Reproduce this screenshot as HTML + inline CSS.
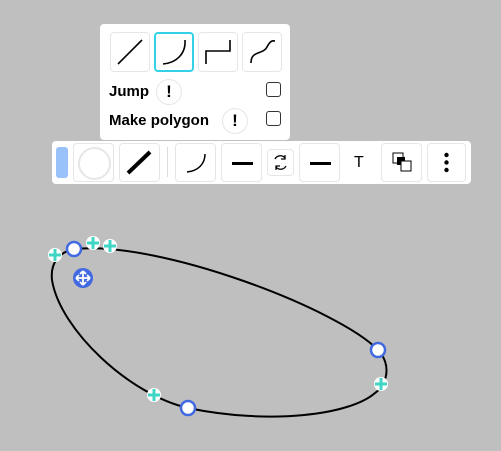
<!DOCTYPE html>
<html><head><style>
body{margin:0;width:501px;height:451px;background:#bfbfbf;position:relative;overflow:hidden;font-family:"Liberation Sans",sans-serif}
.abs{position:absolute}
.btn{position:absolute;background:#fff;border:1px solid #e6e6e6;border-radius:4px;box-sizing:border-box}
</style></head><body>
<svg class="abs" style="left:0;top:0" width="501" height="451">
<path d="M74 249 C160 240,340 310,378 350 C392 365,387 385,375 393 C350 415,270 425,188 408 C130 395,60 330,52 280 C50 262,60 252,74 249 Z" fill="none" stroke="#000" stroke-width="2"/>
<g fill="#fff">
<g transform="translate(55,255)"><circle r="7"/><path d="M-6 0H6M0 -6V6" stroke="#3fd6c4" stroke-width="3"/></g>
<g transform="translate(93,243)"><circle r="7"/><path d="M-6 0H6M0 -6V6" stroke="#3fd6c4" stroke-width="3"/></g>
<g transform="translate(110,246)"><circle r="7"/><path d="M-6 0H6M0 -6V6" stroke="#3fd6c4" stroke-width="3"/></g>
<g transform="translate(381,384)"><circle r="7"/><path d="M-6 0H6M0 -6V6" stroke="#3fd6c4" stroke-width="3"/></g>
<g transform="translate(154,395)"><circle r="7"/><path d="M-6 0H6M0 -6V6" stroke="#3fd6c4" stroke-width="3"/></g>
</g>
<g fill="#fff" stroke="#4169e1" stroke-width="2.5">
<circle cx="74" cy="249" r="7"/><circle cx="378" cy="350" r="7"/><circle cx="188" cy="408" r="7"/>
</g>
<g transform="translate(83,278)">
<circle r="10" fill="#4169e1"/><path d="M-7 0H7M0 -7V7M-7 0l3-3M-7 0l3 3M7 0l-3-3M7 0l-3 3M0 -7l-3 3M0 -7l3 3M0 7l-3-3M0 7l3-3" stroke="#fff" stroke-width="1.8" fill="none"/>
</g>
</svg>

<div class="abs" style="left:100px;top:24px;width:190px;height:116px;background:#fff;border-radius:4px">
<div class="btn" style="left:10px;top:8px;width:40px;height:40px"><svg width="38" height="38"><path d="M7 31L31 7" stroke="#000" stroke-width="1.6"/></svg></div>
<div class="btn" style="left:54px;top:8px;width:40px;height:40px;border:2px solid #33d1e8"><svg width="36" height="36"><path d="M7 30C20 29 30 20 29 6" stroke="#000" stroke-width="1.6" fill="none"/></svg></div>
<div class="btn" style="left:98px;top:8px;width:40px;height:40px"><svg width="38" height="38"><path d="M7 31V18H31V7" stroke="#000" stroke-width="1.6" fill="none"/></svg></div>
<div class="btn" style="left:142px;top:8px;width:40px;height:40px"><svg width="38" height="38"><path d="M8 30C8 17 20 22 24 14S31 8 32 8" stroke="#000" stroke-width="1.6" fill="none"/></svg></div>
<div class="abs" style="left:9px;top:59px;font-size:15px;font-weight:bold">Jump</div>
<div class="abs" style="left:56px;top:55px;width:24px;height:24px;border:1px solid #e6e6e6;border-radius:50%;text-align:center;font-weight:bold;font-size:17px;line-height:24px">!</div>
<div class="abs" style="left:166px;top:58px;width:13px;height:13px;border:1.5px solid #333;border-radius:3px"></div>
<div class="abs" style="left:9px;top:88px;font-size:15px;font-weight:bold">Make polygon</div>
<div class="abs" style="left:122px;top:84px;width:24px;height:24px;border:1px solid #e6e6e6;border-radius:50%;text-align:center;font-weight:bold;font-size:17px;line-height:24px">!</div>
<div class="abs" style="left:166px;top:87px;width:13px;height:13px;border:1.5px solid #333;border-radius:3px"></div>
</div>

<div class="abs" style="left:52px;top:141px;width:419px;height:43px;background:#fff;border-radius:4px">
<div class="abs" style="left:4px;top:6px;width:12px;height:31px;background:#99c2fa;border-radius:3px"></div>
<div class="btn" style="left:21px;top:2px;width:41px;height:39px"><div style="position:absolute;left:4px;top:3px;width:29px;height:29px;border:2px solid #e6e6e6;border-radius:50%"></div></div>
<div class="btn" style="left:67px;top:2px;width:41px;height:39px"><svg width="39" height="37"><path d="M8 29L30 8" stroke="#000" stroke-width="4"/></svg></div>
<div class="abs" style="left:115px;top:6px;width:1px;height:30px;background:#ddd"></div>
<div class="btn" style="left:123px;top:2px;width:41px;height:39px"><svg width="39" height="37"><path d="M11 28C22 27 29 20 29 10" stroke="#000" stroke-width="1.5" fill="none"/></svg></div>
<div class="btn" style="left:169px;top:2px;width:41px;height:39px"><div style="position:absolute;left:10px;top:18px;width:21px;height:3px;background:#000"></div></div>
<div class="btn" style="left:215px;top:8px;width:27px;height:27px"><svg width="25" height="25"><path d="M7 9a6 6 0 0 1 10 -1M18 16a6 6 0 0 1 -10 1" stroke="#000" stroke-width="1.3" fill="none"/><path d="M17 5v4h-4M8 20v-4h4" stroke="#000" stroke-width="1.3" fill="none"/></svg></div>
<div class="btn" style="left:247px;top:2px;width:41px;height:39px"><div style="position:absolute;left:10px;top:18px;width:21px;height:3px;background:#000"></div></div>
<div class="abs" style="left:302px;top:13px;font-size:16px">T</div>
<div class="btn" style="left:329px;top:2px;width:41px;height:39px"><svg width="39" height="37"><rect x="11" y="9" width="10" height="10" fill="#fff" stroke="#000"/><rect x="15" y="13" width="8" height="8" fill="#000"/><rect x="19" y="17" width="10" height="10" fill="#fff" stroke="#000"/></svg></div>
<div class="btn" style="left:375px;top:2px;width:39px;height:39px"><svg width="37" height="37"><circle cx="18.5" cy="11" r="2.2"/><circle cx="18.5" cy="18.5" r="2.2"/><circle cx="18.5" cy="26" r="2.2"/></svg></div>
</div>
</body></html>
